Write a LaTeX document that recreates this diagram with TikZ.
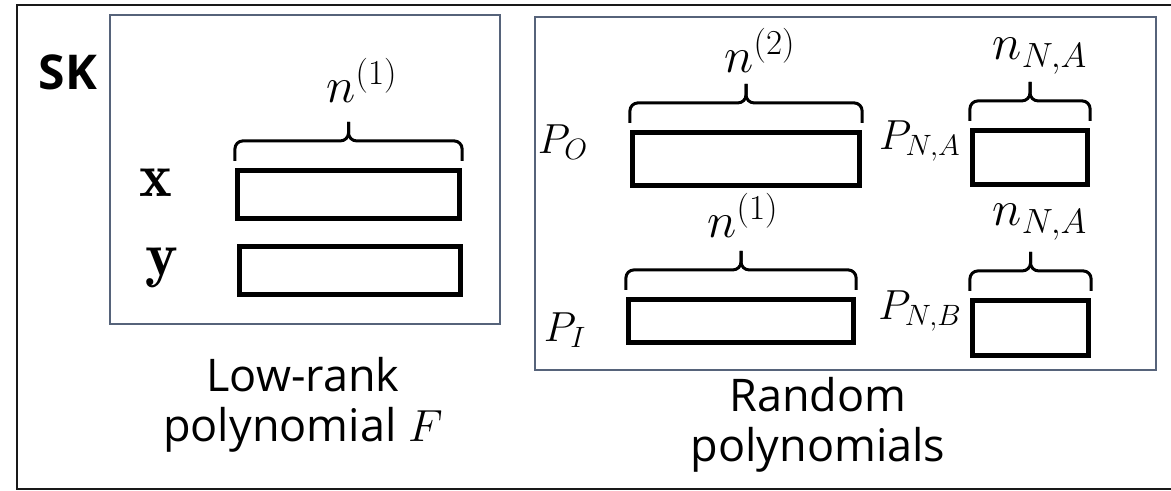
\RequirePackage{fix-cm}
\documentclass[tikz,border=0pt]{standalone}
\usepackage{amsmath}
\usepackage{fontspec}
\setsansfont{Open Sans}
\usepackage{tikz}
\definecolor{panelgray}{HTML}{56637A}

\begin{document}
\begin{tikzpicture}[x=0.5pt, y=-0.5pt,
  panel/.style={draw=panelgray, line width=1.2pt, inner sep=0pt},
  databox/.style={draw, line width=2.6pt, inner sep=0pt},
  bracepen/.style={line width=1.5pt, rounded corners=4pt},
  mathlabel/.style={inner sep=0pt, font=\fontsize{25}{29}\selectfont},
  polylabel/.style={inner sep=0pt, font=\fontsize{21}{25}\selectfont},
  caption/.style={inner sep=0pt, align=center, font=\sffamily\fontsize{22.5}{25}\selectfont}]
\useasboundingbox (0,0) rectangle (1171,491);
\draw[line width=1.1pt, draw=black!90] (17,5) rectangle (1185,489);

% the two groups
\node[panel, minimum width=195pt, minimum height=154.5pt] (lowrank) at (305,169.5) {};
\node[panel, minimum width=310.5pt, minimum height=176.5pt] (random) at (845.5,193.5) {};
\node[inner sep=0pt, font=\sffamily\bfseries\fontsize{24}{28}\selectfont] (sk) at (68,72) {SK};

% low-rank polynomial F
\node[databox, minimum width=111pt, minimum height=24pt] (xbox) at (348.5,194.5) {};
\node[databox, minimum width=110.5pt, minimum height=24pt] (ybox) at (350,270.5) {};
\node[inner sep=0pt, font=\fontsize{31}{35}\selectfont] (xlab) at (156,183) {$\mathbf{x}$};
\node[inner sep=0pt, font=\fontsize{31}{35}\selectfont] (ylab) at (162,268) {$\mathbf{y}$};
\node[mathlabel] (nxlab) at (362,80) {$n^{(1)}$};
\node[caption] (lowcap) at (303,405) {Low-rank\\polynomial $F$};

% random polynomials
\node[databox, minimum width=113.5pt, minimum height=26.5pt] (pobox) at (746,159) {};
\node[databox, minimum width=57.5pt, minimum height=27pt] (nabox) at (1030,157.5) {};
\node[databox, minimum width=112.5pt, minimum height=21.5pt] (pibox) at (741,321) {};
\node[databox, minimum width=58pt, minimum height=27.5pt] (nbbox) at (1030.5,328) {};
\node[polylabel] (polab) at (563,142) {$P_O$};
\node[polylabel] (nalab) at (920,141) {$P_{N,A}$};
\node[polylabel] (pilab) at (565,330) {$P_I$};
\node[polylabel] (nblab) at (920,311) {$P_{N,B}$};
\node[mathlabel] (nolab) at (760,50) {$n^{(2)}$};
\node[mathlabel] (nnalab) at (1040,56) {$n_{N,A}$};
\node[mathlabel] (nilab) at (743,215) {$n^{(1)}$};
\node[mathlabel] (nnblab) at (1040,222) {$n_{N,A}$};
\node[caption] (randcap) at (818,425) {Random\\polynomials};

% braces over the boxes
\foreach \b in {xbox,pobox,nabox,pibox,nbbox} {
  \draw[bracepen] ([yshift=3.5pt]\b.north west) |- ([yshift=13.5pt]\b.north) -- ([yshift=23pt]\b.north);
  \draw[bracepen] ([yshift=3.5pt]\b.north east) |- ([yshift=13.5pt]\b.north) -- ([yshift=23pt]\b.north);
}
\end{tikzpicture}
\end{document}
